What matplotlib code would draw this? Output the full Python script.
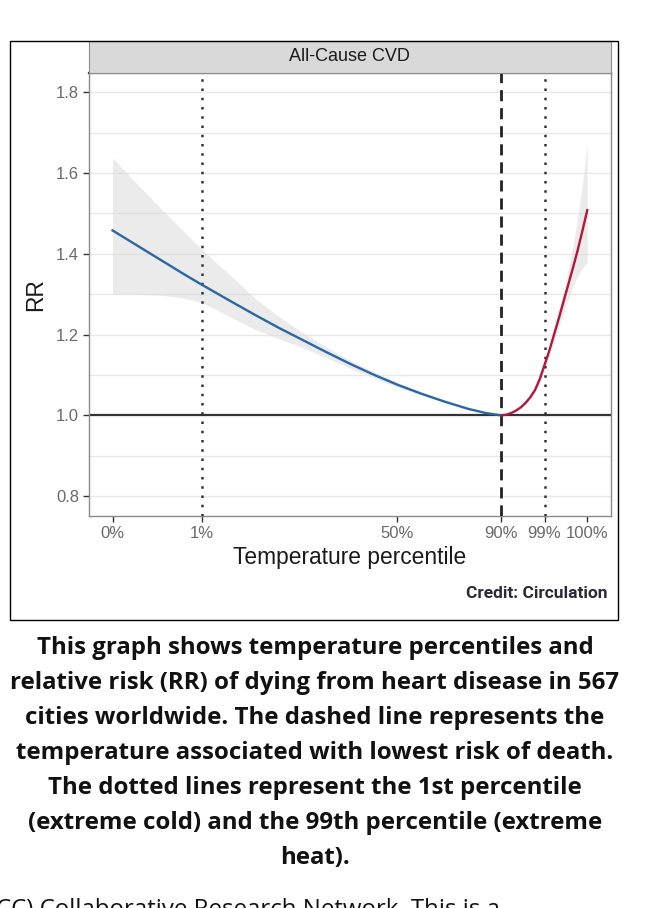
import matplotlib
matplotlib.use('Agg')
import matplotlib.pyplot as plt
from matplotlib.patches import Rectangle
import numpy as np

W, H = 648, 908

# x positions on the temperature axis (0 = 0th pct, 100 = 100th pct)
tick_pos = [0, 18.9, 59.9, 81.9, 91.0, 100]
tick_labels = ['0%', '1%', '50%', '90%', '99%', '100%']
mmt_pos = 81.9              # minimum mortality temperature (dashed)
extreme_pos = [18.9, 91.0]  # 1st and 99th percentile (dotted)

# cold side (blue)
cold_x = [0, 5, 10, 15, 18.9, 25, 30, 35, 40, 45, 50, 55, 60, 65, 70, 75, 78.6, 81.9]
cold_rr = [1.458, 1.422, 1.386, 1.350, 1.323, 1.282, 1.249, 1.217, 1.187, 1.157, 1.128,
           1.101, 1.076, 1.054, 1.034, 1.016, 1.006, 1.0]
cold_hi = [1.638, 1.575, 1.515, 1.455, 1.41, 1.345, 1.29, 1.245, 1.205, 1.17, 1.137,
           1.108, 1.082, 1.058, 1.037, 1.018, 1.007, 1.0]
cold_lo = [1.300, 1.300, 1.298, 1.290, 1.279, 1.243, 1.213, 1.19, 1.168, 1.143, 1.117,
           1.093, 1.07, 1.05, 1.031, 1.014, 1.005, 1.0]

# hot side (red)
hot_x = [81.9, 83, 84, 85, 86, 87, 88, 89, 90, 91, 92, 93, 94, 95, 96, 97, 98, 99, 100]
hot_rr = [1.0, 1.002, 1.006, 1.012, 1.02, 1.031, 1.045, 1.063, 1.09, 1.125, 1.16, 1.2,
          1.24, 1.282, 1.324, 1.366, 1.41, 1.458, 1.508]
hot_hi = [1.0, 1.003, 1.007, 1.014, 1.023, 1.035, 1.05, 1.07, 1.098, 1.135, 1.172, 1.215,
          1.26, 1.31, 1.36, 1.42, 1.49, 1.575, 1.671]
hot_lo = [1.0, 1.001, 1.005, 1.01, 1.017, 1.027, 1.04, 1.057, 1.082, 1.115, 1.148, 1.185,
          1.22, 1.255, 1.29, 1.32, 1.345, 1.365, 1.378]

caption = [
    'This graph shows temperature percentiles and',
    'relative risk (RR) of dying from heart disease in 567',
    'cities worldwide. The dashed line represents the',
    'temperature associated with lowest risk of death.',
    'The dotted lines represent the 1st percentile',
    '(extreme cold) and the 99th percentile (extreme',
    'heat).',
]

fig = plt.figure(figsize=(W / 100, H / 100), dpi=100)

def fx(px):
    return px / W

def fy(py):
    return 1 - py / H

# outer frame
fig.patches.append(Rectangle((fx(10.3), fy(620)), fx(618.5) - fx(10.3), fy(41) - fy(620),
                             transform=fig.transFigure, fill=False, edgecolor='black', lw=1.0))

ax = fig.add_axes([fx(88.8), fy(516), fx(611) - fx(88.8), fy(72.5) - fy(516)])
ax.set_xlim(-5, 105)
ax.set_ylim(0.751, 1.849)

for y in np.arange(0.8, 1.81, 0.1):
    ax.axhline(y, color='#e8e8e8', lw=1.0, zorder=0)

ax.fill_between(cold_x, cold_lo, cold_hi, color='#dcdcdc', alpha=0.55, lw=0, zorder=1)
ax.fill_between(hot_x, hot_lo, hot_hi, color='#dcdcdc', alpha=0.55, lw=0, zorder=1)

ax.axhline(1.0, color='#333333', lw=1.6, zorder=2)
for xp in extreme_pos:
    ax.axvline(xp, color='#333333', lw=1.8, ls=(0, (1, 2.7)), zorder=3)
ax.axvline(mmt_pos, color='#222222', lw=2.0, ls=(0, (4, 2.5)), zorder=3)

ax.plot(cold_x, cold_rr, color='#2b66a6', lw=1.7, zorder=4)
ax.plot(hot_x, hot_rr, color='#b3173b', lw=1.7, zorder=4)

ax.set_xticks(tick_pos)
ax.set_xticklabels(tick_labels)
ax.set_yticks([0.8, 1.0, 1.2, 1.4, 1.6, 1.8])
ax.set_yticklabels(['0.8', '1.0', '1.2', '1.4', '1.6', '1.8'])
ax.tick_params(length=4, width=1.0, color='#333333', labelcolor='#6a6a6a',
               labelsize=12, pad=3)
for lab in ax.get_xticklabels() + ax.get_yticklabels():
    lab.set_family('Liberation Sans')
for side in ['left', 'right', 'bottom']:
    ax.spines[side].set_color('#8a8a8a')
    ax.spines[side].set_linewidth(1.0)
ax.spines['top'].set_color('#444444')
ax.spines['top'].set_linewidth(1.6)

ax.set_xlabel('Temperature percentile', fontsize=16.4, color='#1a1a1a',
              family='Liberation Sans', labelpad=4)
ax.set_ylabel('RR', fontsize=16.4, color='#1a1a1a', family='Liberation Sans', labelpad=6)

# facet strip
strip = fig.add_axes([fx(88.8), fy(72.5), fx(611) - fx(88.8), fy(41) - fy(72.5)])
strip.set_facecolor('#d9d9d9')
strip.set_xticks([])
strip.set_yticks([])
for side in strip.spines:
    strip.spines[side].set_color('#8a8a8a')
strip.text(0.5, 0.5, 'All-Cause CVD', ha='center', va='center', fontsize=13,
           color='#1a1a1a', family='Liberation Sans', transform=strip.transAxes)

fig.text(fx(607.5), fy(593), 'Credit: Circulation', ha='right', va='center',
         fontsize=12.5, fontweight='bold', color='#2b2b38', family='Roboto')

for i, line in enumerate(caption):
    fig.text(fx(315), fy(648 + 35 * i), line, ha='center', va='center',
             fontsize=17.3, fontweight='bold', color='#111111', family='Open Sans')

fig.text(fx(-4), fy(898), 'CC) Collaborative Research Network. This is a', ha='left', va='top',
         fontsize=17.3, color='#111111', family='Open Sans')

fig.savefig('out.png', dpi=100)
